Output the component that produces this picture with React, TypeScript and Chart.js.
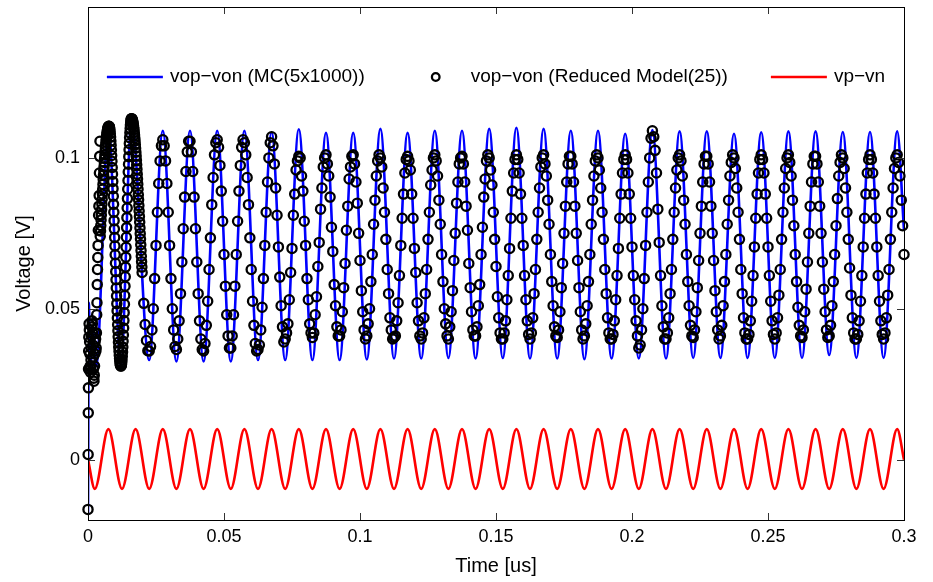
import React, { useEffect, useRef } from 'react';
import { Chart, registerables } from 'chart.js';

Chart.register(...registerables);

const FONT = '"Liberation Sans", Arial, Helvetica, sans-serif';

const xTicks = [0, 0.05, 0.1, 0.15, 0.2, 0.25, 0.3];
const xTickLabels = ['0', '0.05', '0.1', '0.15', '0.2', '0.25', '0.3'];
const yTicks = [0, 0.05, 0.1];
const yTickLabels = ['0', '0.05', '0.1'];
const seriesLabels = ['vop\u2212von (MC(5x1000))', 'vop\u2212von (Reduced Model(25))', 'vp\u2212vn'];
const xTitle = 'Time [us]';
const yTitle = 'Voltage [V]';

// vp-vn : extrema of the red trace
const redT = [0, 0.0025, 0.0075, 0.0125, 0.0175, 0.0225, 0.0275, 0.0325, 0.0375, 0.0425, 0.0475, 0.0525, 0.0575, 0.0625, 0.0675, 0.0725, 0.0775, 0.0825, 0.0875, 0.0925, 0.0975, 0.1025, 0.1075, 0.1125, 0.1175, 0.1225, 0.1275, 0.1325, 0.1375, 0.1425, 0.1475, 0.1525, 0.1575, 0.1625, 0.1675, 0.1725, 0.1775, 0.1825, 0.1875, 0.1925, 0.1975, 0.2025, 0.2075, 0.2125, 0.2175, 0.2225, 0.2275, 0.2325, 0.2375, 0.2425, 0.2475, 0.2525, 0.2575, 0.2625, 0.2675, 0.2725, 0.2775, 0.2825, 0.2875, 0.2925, 0.2975, 0.3];
const redV = [0,
  -0.0097, 0.0101, -0.0097, 0.0101, -0.0097, 0.0101, -0.0097, 0.0101, -0.0097, 0.0101,
  -0.0097, 0.0101, -0.0097, 0.0101, -0.0097, 0.0101, -0.0097, 0.0101, -0.0097, 0.0101,
  -0.0097, 0.0101, -0.0097, 0.0101, -0.0097, 0.0101, -0.0097, 0.0101, -0.0097, 0.0101,
  -0.0097, 0.0101, -0.0097, 0.0101, -0.0097, 0.0101, -0.0097, 0.0101, -0.0097, 0.0101,
  -0.0097, 0.0101, -0.0097, 0.0101, -0.0097, 0.0101, -0.0097, 0.0101, -0.0097, 0.0101,
  -0.0097, 0.0101, -0.0097, 0.0101, -0.0097, 0.0101, -0.0097, 0.0101, -0.0097, 0.0101,
  0];

// vop-von MC : extrema of the blue trace
const blueT = [0, 0.0003, 0.0008, 0.0017, 0.003, 0.0075, 0.0121, 0.016, 0.0225,
  0.0275, 0.0325, 0.0375, 0.0425, 0.0475, 0.0525, 0.0575, 0.0625, 0.0675, 0.0725,
  0.0775, 0.0825, 0.0875, 0.0925, 0.0975, 0.1025, 0.1075, 0.1125, 0.1175, 0.1225,
  0.1275, 0.1325, 0.1375, 0.1425, 0.1475, 0.1525, 0.1575, 0.1625, 0.1675, 0.1725,
  0.1775, 0.1825, 0.1875, 0.1925, 0.1975, 0.2025, 0.2075, 0.2125, 0.2175, 0.2225,
  0.2275, 0.2325, 0.2375, 0.2425, 0.2475, 0.2525, 0.2575, 0.2625, 0.2675, 0.2725,
  0.2775, 0.2825, 0.2875, 0.2925, 0.2975, 0.3];
const blueV = [-0.018, 0.052, 0.029, 0.044, 0.031, 0.11, 0.031, 0.1125, 0.033,
  0.109, 0.0325, 0.109, 0.0325, 0.109, 0.0325, 0.109, 0.033, 0.1085, 0.033,
  0.1095, 0.033, 0.1083, 0.033, 0.1083, 0.0332, 0.1096, 0.0335, 0.1083, 0.0335,
  0.109, 0.0337, 0.109, 0.0335, 0.1096, 0.0337, 0.11, 0.0335, 0.1096, 0.0335,
  0.109, 0.0333, 0.109, 0.0335, 0.108, 0.0335, 0.1092, 0.0335, 0.1088, 0.0337,
  0.1088, 0.0337, 0.108, 0.0337, 0.1085, 0.0337, 0.1088, 0.0337, 0.1088, 0.0347,
  0.1086, 0.0337, 0.1086, 0.0337, 0.1088, 0.076];

// Reduced model circles: start-up (irregular times)
const circEarlyT = [0, 0.00005, 0.0001, 0.00015, 0.0002, 0.00025, 0.0003,
  0.0004, 0.0005, 0.0006, 0.0007, 0.0008, 0.0009, 0.001, 0.0011, 0.0012, 0.0013, 0.0014, 0.0015, 0.0016,
  0.0017, 0.0018, 0.0019, 0.002, 0.0021, 0.0022, 0.0023, 0.0024, 0.0025, 0.0026, 0.0027, 0.0028, 0.0029,
  0.003, 0.0031, 0.0032, 0.0033, 0.0034, 0.0035, 0.0036, 0.0037, 0.0038, 0.0039, 0.004, 0.0041, 0.0042, 0.0043, 0.0044];
const circEarlyV = [-0.0165, 0.0017, 0.0155, 0.0238, 0.03, 0.036, 0.0406,
  0.045, 0.043, 0.039, 0.035, 0.031, 0.029, 0.03, 0.033, 0.037, 0.041, 0.044, 0.046, 0.045,
  0.042, 0.038, 0.034, 0.03, 0.027, 0.026, 0.028, 0.031, 0.035, 0.039, 0.042, 0.04, 0.036,
  0.037, 0.042, 0.048, 0.052, 0.058, 0.063, 0.067, 0.071, 0.076, 0.081, 0.084, 0.0875, 0.095, 0.1005, 0.1055];

// Reduced model circles: dense start-up loops (step 0.0001 us from 0.0045 us)
const circDenseStart = 0.0045;
const circDenseStep = 0.0001;
const circDenseV = [
  0.074, 0.0758, 0.0776, 0.0794, 0.0811, 0.0829, 0.0846, 0.0863, 0.088, 0.0896, 0.0912, 0.0928, 0.0943, 0.0958, 0.0971, 0.0985, 0.0998, 0.101, 0.1022, 0.1033, 0.1043, 0.1053, 0.1062, 0.107, 0.1077, 0.1083, 0.1089, 0.1094, 0.1098, 0.1101, 0.1103, 0.1105, 0.1105,
  0.1104, 0.1101, 0.1096, 0.1089, 0.108, 0.1069, 0.1056, 0.1042, 0.1026, 0.1008, 0.0989, 0.0968, 0.0946, 0.0922, 0.0898, 0.0873, 0.0846, 0.082, 0.0792, 0.0764, 0.0736, 0.0708, 0.0679, 0.0651, 0.0623, 0.0596, 0.0569, 0.0542, 0.0517, 0.0493, 0.0469, 0.0447, 0.0427, 0.0407, 0.0389, 0.0373, 0.0359, 0.0346, 0.0335, 0.0326, 0.0319, 0.0314, 0.0311, 0.031,
  0.0311, 0.0315, 0.0322, 0.0331, 0.0343, 0.0357, 0.0373, 0.0392, 0.0413, 0.0436, 0.0461, 0.0487, 0.0515, 0.0544, 0.0575, 0.0606, 0.0638, 0.0671, 0.0704, 0.0737, 0.0769, 0.0802, 0.0834, 0.0865, 0.0896, 0.0925, 0.0953, 0.0979, 0.1004, 0.1027, 0.1048, 0.1067, 0.1083, 0.1097, 0.1109, 0.1118, 0.1125, 0.1129, 0.113,
  0.113, 0.1128, 0.1126, 0.1123, 0.1119, 0.1114, 0.1108, 0.1101, 0.1094, 0.1085, 0.1076, 0.1066, 0.1056, 0.1044, 0.1032, 0.1019, 0.1006, 0.0992, 0.0977, 0.0962, 0.0946, 0.093, 0.0913, 0.0896, 0.0878, 0.0861, 0.0842, 0.0824, 0.0806, 0.0787, 0.0768, 0.0749, 0.0731, 0.0712, 0.0693, 0.0674, 0.0656, 0.0638, 0.062,
];

// Reduced model circles: steady state (step 0.0005 us from 0.0205 us)
const circStart = 0.0205;
const circStep = 0.0005;
const circV = [
  0.0518, 0.0448, 0.0395, 0.0361,
  0.036, 0.0375, 0.043, 0.05, 0.06, 0.071, 0.082, 0.0915, 0.099, 0.104, 0.106, 0.104, 0.099, 0.0915, 0.082, 0.071, 0.06, 0.05, 0.043, 0.0375,
  0.0365, 0.04, 0.046, 0.055, 0.0655, 0.0765, 0.087, 0.0955, 0.102, 0.1055, 0.1055, 0.102, 0.0955, 0.087, 0.0765, 0.0655, 0.055, 0.046, 0.04, 0.0365,
  0.036, 0.0385, 0.0445, 0.0525, 0.063, 0.0735, 0.0845, 0.0935, 0.101, 0.105, 0.106, 0.1035, 0.0975, 0.089, 0.079, 0.068, 0.0575, 0.048, 0.041, 0.037,
  0.037, 0.041, 0.048, 0.0575, 0.068, 0.079, 0.089, 0.0975, 0.1035, 0.106, 0.105, 0.101, 0.0935, 0.0845, 0.0735, 0.063, 0.0525, 0.0445, 0.0385, 0.036,
  0.0365, 0.038, 0.043, 0.0505, 0.06, 0.071, 0.082, 0.092, 0.1, 0.105, 0.107, 0.104, 0.098, 0.09, 0.081, 0.0705, 0.0605, 0.051, 0.044, 0.039,
  0.04, 0.042, 0.045, 0.053, 0.062, 0.07, 0.081, 0.088, 0.096, 0.099, 0.1005, 0.1, 0.094, 0.089, 0.079, 0.071, 0.06, 0.053, 0.045, 0.042,
  0.0405, 0.042, 0.048, 0.054, 0.064, 0.072, 0.083, 0.09, 0.097, 0.1, 0.101, 0.098, 0.094, 0.087, 0.077, 0.069, 0.058, 0.051, 0.044, 0.041,
  0.041, 0.043, 0.049, 0.057, 0.065, 0.076, 0.084, 0.093, 0.097, 0.1005, 0.101, 0.098, 0.092, 0.085, 0.075, 0.066, 0.056, 0.049, 0.043, 0.04,
  0.041, 0.045, 0.05, 0.059, 0.068, 0.078, 0.086, 0.094, 0.099, 0.101, 0.1, 0.097, 0.09, 0.082, 0.073, 0.063, 0.055, 0.047, 0.043, 0.04,
  0.0405, 0.041, 0.046, 0.052, 0.061, 0.071, 0.08, 0.088, 0.095, 0.0995, 0.1005, 0.099, 0.096, 0.088, 0.08, 0.07, 0.062, 0.052, 0.046, 0.041,
  0.04, 0.042, 0.047, 0.055, 0.063, 0.073, 0.082, 0.091, 0.096, 0.1, 0.101, 0.099, 0.094, 0.086, 0.078, 0.068, 0.059, 0.05, 0.045, 0.041,
  0.04, 0.044, 0.049, 0.056, 0.066, 0.075, 0.085, 0.092, 0.098, 0.1, 0.1005, 0.098, 0.092, 0.084, 0.076, 0.065, 0.057, 0.049, 0.043, 0.041,
  0.041, 0.044, 0.051, 0.058, 0.068, 0.077, 0.087, 0.093, 0.099, 0.101, 0.1, 0.096, 0.091, 0.082, 0.073, 0.064, 0.054, 0.047, 0.042, 0.04,
  0.04, 0.042, 0.046, 0.053, 0.061, 0.07, 0.08, 0.089, 0.095, 0.0995, 0.101, 0.0995, 0.095, 0.088, 0.08, 0.071, 0.061, 0.053, 0.046, 0.0415,
  0.04, 0.042, 0.047, 0.055, 0.063, 0.073, 0.082, 0.09, 0.097, 0.1, 0.101, 0.098, 0.094, 0.086, 0.078, 0.068, 0.059, 0.051, 0.044, 0.041,
  0.0405, 0.043, 0.049, 0.057, 0.065, 0.075, 0.084, 0.092, 0.098, 0.1005, 0.1005, 0.098, 0.092, 0.084, 0.075, 0.066, 0.057, 0.049, 0.043, 0.04,
  0.041, 0.045, 0.051, 0.059, 0.068, 0.078, 0.086, 0.094, 0.099, 0.101, 0.1, 0.096, 0.09, 0.082, 0.073, 0.063, 0.055, 0.047, 0.042, 0.04,
  0.04, 0.0415, 0.046, 0.053, 0.061, 0.07, 0.08, 0.088, 0.095, 0.0995, 0.101, 0.0995, 0.095, 0.088, 0.08, 0.0705, 0.061, 0.053, 0.046, 0.041,
  0.037, 0.038, 0.043, 0.05, 0.06, 0.071, 0.082, 0.092, 0.1, 0.1065, 0.109, 0.107, 0.1025, 0.095, 0.083, 0.072, 0.061, 0.051, 0.044, 0.04,
  0.04, 0.042, 0.047, 0.055, 0.063, 0.073, 0.082, 0.09, 0.096, 0.1, 0.101, 0.099, 0.094, 0.086, 0.078, 0.068, 0.059, 0.051, 0.0445, 0.041,
  0.0405, 0.043, 0.049, 0.057, 0.066, 0.075, 0.084, 0.092, 0.098, 0.1005, 0.1005, 0.098, 0.092, 0.084, 0.075, 0.066, 0.056, 0.049, 0.043, 0.04,
  0.041, 0.0445, 0.051, 0.059, 0.068, 0.078, 0.086, 0.094, 0.0985, 0.101, 0.1, 0.0965, 0.09, 0.082, 0.073, 0.063, 0.055, 0.047, 0.042, 0.04,
  0.04, 0.0415, 0.046, 0.0525, 0.061, 0.0705, 0.08, 0.088, 0.095, 0.0995, 0.101, 0.0995, 0.095, 0.088, 0.08, 0.0705, 0.061, 0.0525, 0.046, 0.0415,
  0.04, 0.042, 0.047, 0.0545, 0.063, 0.073, 0.082, 0.09, 0.0965, 0.1, 0.101, 0.0985, 0.094, 0.086, 0.0775, 0.068, 0.059, 0.0505, 0.0445, 0.041,
  0.0405, 0.043, 0.049, 0.0565, 0.0655, 0.075, 0.084, 0.092, 0.098, 0.1005, 0.1005, 0.098, 0.092, 0.084, 0.075, 0.0655, 0.0565, 0.049, 0.043, 0.0405,
  0.041, 0.0445, 0.051, 0.059, 0.068, 0.0775, 0.0865, 0.094, 0.0985, 0.101, 0.1, 0.0965, 0.09, 0.082, 0.073, 0.0635, 0.0545, 0.047, 0.042, 0.04,
  0.04, 0.0415, 0.046, 0.0525, 0.061, 0.0705, 0.08, 0.088, 0.095, 0.0995, 0.101, 0.0995, 0.095, 0.088, 0.08, 0.0705, 0.061, 0.0525, 0.046, 0.0415,
  0.04, 0.042, 0.047, 0.0545, 0.063, 0.073, 0.082, 0.09, 0.0965, 0.1, 0.101, 0.0985, 0.094, 0.086, 0.0775, 0.068,
];

const matlabFrame = {
  id: 'matlabFrame',
  afterDraw(chart: any) {
    const { ctx, chartArea: a, scales } = chart;
    ctx.save();
    ctx.lineWidth = 1;
    ctx.strokeStyle = '#333';
    const tl = 7;
    ctx.beginPath();
    xTicks.forEach((v) => {
      const px = Math.round(scales.x.getPixelForValue(v)) + 0.5;
      ctx.moveTo(px, a.bottom);
      ctx.lineTo(px, a.bottom - tl);
      ctx.moveTo(px, a.top);
      ctx.lineTo(px, a.top + tl);
    });
    yTicks.forEach((v) => {
      const py = Math.round(scales.y.getPixelForValue(v)) + 0.5;
      ctx.moveTo(a.left, py);
      ctx.lineTo(a.left + tl, py);
      ctx.moveTo(a.right, py);
      ctx.lineTo(a.right - tl, py);
    });
    ctx.stroke();
    ctx.strokeStyle = '#000';
    ctx.strokeRect(Math.round(a.left) + 0.5, Math.round(a.top) + 0.5, Math.round(a.width), Math.round(a.height));

    // legend inside the axes, no box
    const ds = chart.data.datasets;
    ctx.font = `19px ${FONT}`;
    const iconW = 56;
    const gap = 7;
    const pad = 43;
    const widths = ds.map((d: any) => iconW + gap + ctx.measureText(d.label).width);
    const total = widths.reduce((s: number, w: number) => s + w, 0) + pad * (ds.length - 1);
    let x = (a.left + a.right) / 2 - total / 2;
    const y = a.top + 70;
    ds.forEach((d: any, i: number) => {
      if (d.showLine === false) {
        ctx.beginPath();
        ctx.lineWidth = d.pointBorderWidth;
        ctx.strokeStyle = d.pointBorderColor;
        ctx.arc(x + iconW / 2, y, 3.8, 0, Math.PI * 2);
        ctx.stroke();
      } else {
        ctx.beginPath();
        ctx.lineWidth = d.borderWidth;
        ctx.strokeStyle = d.borderColor;
        ctx.moveTo(x, y);
        ctx.lineTo(x + iconW, y);
        ctx.stroke();
      }
      ctx.fillStyle = '#000';
      ctx.textAlign = 'left';
      ctx.textBaseline = 'middle';
      ctx.fillText(d.label, x + iconW + gap, y);
      x += widths[i] + pad;
    });
    ctx.restore();
  },
};

export default function App() {
  const ref = useRef<HTMLCanvasElement | null>(null);

  useEffect(() => {
    document.body.style.margin = '0';
    const canvas = ref.current;
    if (!canvas) return;

    const bluePts = blueT.map((t, i) => ({ x: t, y: blueV[i] }));
    const redPts = redT.map((t, i) => ({ x: t, y: redV[i] }));
    const circPts = [
      ...circEarlyT.map((t, i) => ({ x: t, y: circEarlyV[i] })),
      ...circDenseV.map((v, i) => ({ x: +(circDenseStart + i * circDenseStep).toFixed(6), y: v })),
      ...circV.map((v, i) => ({ x: +(circStart + i * circStep).toFixed(6), y: v })),
    ];

    const chart = new Chart(canvas, {
      type: 'line',
      data: {
        datasets: [
          {
            label: seriesLabels[0],
            data: bluePts,
            borderColor: '#0000ff',
            borderWidth: 2.6,
            pointRadius: 0,
            cubicInterpolationMode: 'monotone',
            fill: false,
            order: 3,
          },
          {
            label: seriesLabels[1],
            data: circPts,
            showLine: false,
            pointRadius: 4.6,
            pointBorderWidth: 2.3,
            pointBorderColor: '#000000',
            pointBackgroundColor: 'rgba(0,0,0,0)',
            clip: false,
            order: 2,
          } as any,
          {
            label: seriesLabels[2],
            data: redPts,
            borderColor: '#ff0000',
            borderWidth: 2.6,
            pointRadius: 0,
            cubicInterpolationMode: 'monotone',
            fill: false,
            order: 1,
          },
        ],
      },
      options: {
        responsive: false,
        animation: false,
        events: [],
        layout: { padding: { left: 0, right: 29, top: 7, bottom: 0 } },
        plugins: {
          legend: { display: false },
          tooltip: { enabled: false },
          title: { display: false },
        },
        scales: {
          x: {
            type: 'linear',
            min: 0,
            max: 0.3,
            grid: { display: false, drawTicks: false },
            border: { display: false },
            afterBuildTicks: (scale: any) => {
              scale.ticks = xTicks.map((v) => ({ value: v }));
            },
            afterFit: (scale: any) => {
              scale.height = 62;
              scale.paddingLeft = 0;
              scale.paddingRight = 0;
            },
            ticks: {
              autoSkip: false,
              maxRotation: 0,
              padding: 6,
              color: '#000',
              font: { family: FONT, size: 18 },
              callback: (_v: any, i: number) => xTickLabels[i],
            },
            title: {
              display: true,
              text: xTitle,
              color: '#000',
              font: { family: FONT, size: 20 },
              padding: { top: 0, bottom: 4 },
            },
          },
          y: {
            type: 'linear',
            min: -0.02,
            max: 0.15,
            grid: { display: false, drawTicks: false },
            border: { display: false },
            afterBuildTicks: (scale: any) => {
              scale.ticks = yTicks.map((v) => ({ value: v }));
            },
            afterFit: (scale: any) => {
              scale.width = 88;
              scale.paddingTop = 0;
              scale.paddingBottom = 0;
            },
            ticks: {
              autoSkip: false,
              padding: 8,
              color: '#000',
              font: { family: FONT, size: 18 },
              callback: (_v: any, i: number) => yTickLabels[i],
            },
            title: {
              display: true,
              text: yTitle,
              color: '#000',
              font: { family: FONT, size: 20 },
              padding: { top: 12, bottom: 0 },
            },
          },
        },
      } as any,
      plugins: [matlabFrame],
    });

    return () => chart.destroy();
  }, []);

  return (
    <div style={{ width: 933, height: 582, background: '#fff' }}>
      <canvas ref={ref} width={933} height={582} />
    </div>
  );
}
